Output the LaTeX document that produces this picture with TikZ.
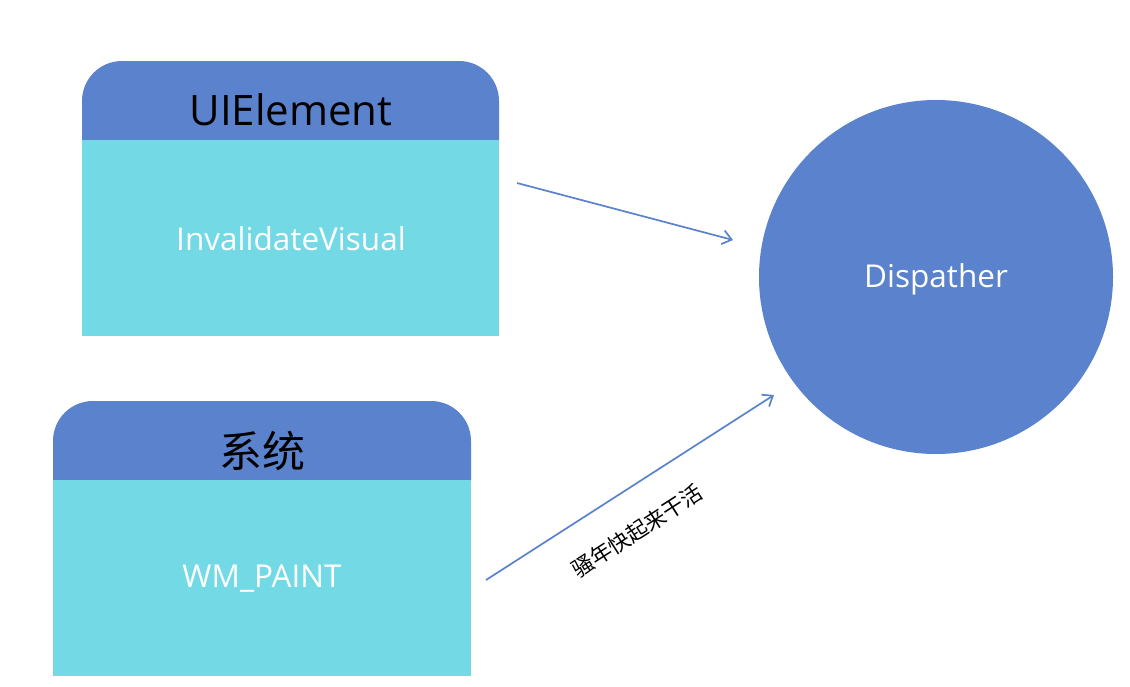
\documentclass[tikz,border=0pt]{standalone}
\usepackage{fontspec}
\setmainfont{Open Sans}
\newfontfamily\cjk{Noto Sans CJK SC}
\usetikzlibrary{arrows.meta}
\definecolor{hdrblue}{RGB}{91,130,204}
\definecolor{bodycyan}{RGB}{115,218,229}
\tikzset{
  hdrtext/.style={text=black,font=\fontsize{42}{50}\selectfont,inner sep=0pt},
  bodybox/.style={fill=bodycyan,draw=none,anchor=north west,minimum width=417pt,minimum height=196pt,inner sep=0pt},
  bodytext/.style={text=white,font=\fontsize{31.5}{38}\selectfont,inner sep=0pt},
  hub/.style={circle,fill=hdrblue,draw=none,minimum size=354pt,inner sep=0pt,text=white,font=\fontsize{31.5}{38}\selectfont},
  flow/.style={draw=hdrblue,line width=1.7pt,-{Straight Barb[length=9pt,width=14pt,line width=1.7pt]}},
  flowlabel/.style={font=\cjk\fontsize{21.5}{25}\selectfont,text=black,inner sep=0pt}
}
\begin{document}
\begin{tikzpicture}[x=1pt,y=-1pt]
\useasboundingbox[fill=white] (0,0) rectangle (1130,686);
% UIElement box
\fill[hdrblue] (82,141) [rounded corners=40pt] -- (82,61) -- (499,61) [sharp corners] -- (499,141) -- cycle;
\node[hdrtext] (h1) at (291,110) {UIElement};
\node[bodybox] (b1) at (82,140) {};
\node[bodytext] (t1) at (291,239) {InvalidateVisual};
% System box
\fill[hdrblue] (53,481) [rounded corners=40pt] -- (53,401) -- (471,401) [sharp corners] -- (471,481) -- cycle;
\node[hdrtext,font=\cjk\fontsize{43}{50}\selectfont] (h2) at (262,451) {系统};
\node[bodybox,minimum width=418pt] (b2) at (53,480) {};
\node[bodytext] (t2) at (262,579) {WM\_PAINT};
% Dispatcher
\node[hub] (d) at (936,277) {};
\node[text=white,font=\fontsize{31.5}{38}\selectfont,inner sep=0pt] (dt) at (936,279) {Dispather};
% connectors
\coordinate (a1s) at (517,183);
\coordinate (a1e) at (733,240);
\coordinate (a2s) at (486,580);
\coordinate (a2e) at (774,395);
\draw[flow] (a1s) -- (a1e);
\draw[flow] (a2s) -- (a2e);
\node[flowlabel,rotate=32.7] (lbl) at (637,531) {骚年快起来干活};
\end{tikzpicture}
\end{document}
